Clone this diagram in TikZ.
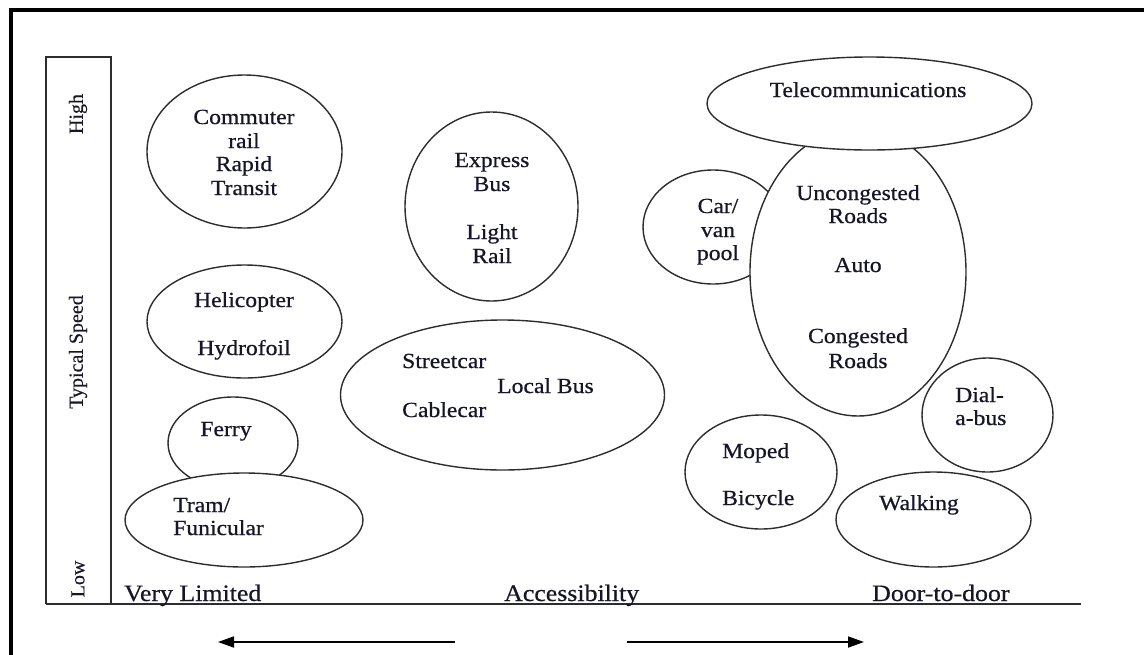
\documentclass[tikz,border=0pt]{standalone}
\usepackage{fontspec}
\setmainfont{Liberation Serif}[FakeStretch=1.1,FakeBold=0.6]
\newfontfamily\axisfont{Liberation Serif}[FakeBold=0.4]
\usetikzlibrary{shapes.geometric,arrows.meta}
\definecolor{linegray}{RGB}{45,45,45}
\definecolor{inkc}{RGB}{22,22,40}

\begin{document}
\begin{tikzpicture}[x=1pt,y=-1pt,
  mode/.style={ellipse, draw=linegray, line width=1.4pt, fill=white, inner sep=0pt},
  lbl/.style={font=\fontsize{21.5}{24}\selectfont, text=inkc, inner sep=0pt, anchor=base},
  lbll/.style={lbl, anchor=base west},
  axlbl/.style={font=\fontsize{23.5}{26}\selectfont, text=inkc, inner sep=0pt, anchor=base west},
  vlbl/.style={font=\axisfont\fontsize{20}{22}\selectfont, text=inkc, inner sep=0pt, rotate=90},
  axisline/.style={draw=linegray, line width=1.6pt},
  dirarrow/.style={draw=black, line width=1.8pt, -{Triangle[length=16pt,width=11pt]}}
]
\useasboundingbox (0,0) rectangle (1144,654);

% outer frame (top and left edges)
\draw[line width=4pt] (11,656) -- (11,9.5) -- (1146,9.5);

% speed scale box and accessibility axis
\draw[axisline] (46,604) -- (46,57) -- (111,57) -- (111,604);
\draw[axisline] (46,604) -- (1081,604);

\node[vlbl] (high) at (78,114) {High};
\node[vlbl] (speed) at (78,352) {Typical Speed};
\node[vlbl] (low) at (78,579) {Low};

\node[axlbl] (vlim) at (124,601) {Very Limited};
\node[axlbl] (acc) at (504,601) {Accessibility};
\node[axlbl] (d2d) at (872,601) {Door-to-door};

% direction arrows
\coordinate (la0) at (455,642);
\coordinate (la1) at (218,642);
\coordinate (ra0) at (627,642);
\coordinate (ra1) at (864,642);
\draw[dirarrow] (la0) -- (la1);
\draw[dirarrow] (ra0) -- (ra1);

% left column of modes
\node[mode, minimum width=195pt, minimum height=153pt] (commuter) at (244.5,151.5) {};
\node[lbl] (t1a) at (244,124) {Commuter};
\node[lbl] (t1b) at (244,148) {rail};
\node[lbl] (t1c) at (244,171) {Rapid};
\node[lbl] (t1d) at (244,195) {Transit};

\node[mode, minimum width=195pt, minimum height=113pt] (heli) at (244.5,321.5) {};
\node[lbl] (t2a) at (244,307) {Helicopter};
\node[lbl] (t2b) at (244,355) {Hydrofoil};

\node[mode, minimum width=130pt, minimum height=92pt] (ferry) at (233,443) {};
\node[lbl] (t3a) at (226,436) {Ferry};

\node[mode, minimum width=238pt, minimum height=94pt] (tram) at (244,520) {};
\node[lbll] (t4a) at (173,512) {Tram/};
\node[lbll] (t4b) at (173,535) {Funicular};

% middle modes
\node[mode, minimum width=173pt, minimum height=189pt] (express) at (491.5,206.5) {};
\node[lbl] (t5a) at (492,167) {Express};
\node[lbl] (t5b) at (492,191) {Bus};
\node[lbl] (t5c) at (492,239) {Light};
\node[lbl] (t5d) at (492,263) {Rail};

\node[mode, minimum width=324pt, minimum height=150pt] (local) at (502.5,395) {};
\node[lbll] (t6a) at (402,368) {Streetcar};
\node[lbll] (t6b) at (497,393) {Local Bus};
\node[lbll] (t6c) at (402,417) {Cablecar};

% right-hand modes
\node[mode, minimum width=140pt, minimum height=114pt] (carpool) at (713,227) {};
\node[lbl] (t7a) at (718,213) {Car/};
\node[lbl] (t7b) at (718,237) {van};
\node[lbl] (t7c) at (718,260) {pool};

\node[mode, minimum width=216pt, minimum height=288pt] (auto) at (858,272) {};
\node[lbl] (t8a) at (858,200) {Uncongested};
\node[lbl] (t8b) at (858,223) {Roads};
\node[lbl] (t8c) at (858,272) {Auto};
\node[lbl] (t8d) at (858,343) {Congested};
\node[lbl] (t8e) at (858,368) {Roads};

\node[mode, minimum width=325pt, minimum height=93pt] (telecom) at (869.5,103.5) {};
\node[lbl] (t9a) at (868,97) {Telecommunications};

\node[mode, minimum width=131pt, minimum height=114pt] (dial) at (987.5,415) {};
\node[lbll] (t10a) at (955,402) {Dial-};
\node[lbll] (t10b) at (955,425) {a-bus};

\node[mode, minimum width=152pt, minimum height=114pt] (moped) at (761,472) {};
\node[lbll] (t11a) at (722,458) {Moped};
\node[lbll] (t11b) at (722,505) {Bicycle};

\node[mode, minimum width=195pt, minimum height=95pt] (walk) at (933.5,519.5) {};
\node[lbll] (t12a) at (879,510) {Walking};

\end{tikzpicture}
\end{document}
